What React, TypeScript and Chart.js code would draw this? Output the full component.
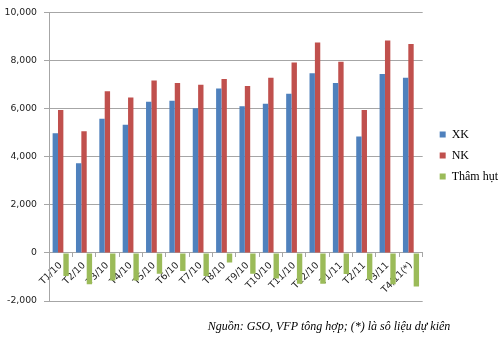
import React, { useEffect, useRef } from "react";
import { Chart, registerables } from "chart.js";

Chart.register(...registerables);

const categories = [
  "T1/10", "T2/10", "T3/10", "T4/10", "T5/10", "T6/10", "T7/10", "T8/10",
  "T9/10", "T10/10", "T11/10", "T12/10", "T1/11", "T2/11", "T3/11", "T4/11(*)",
];
const xk = [4980, 3730, 5580, 5330, 6290, 6330, 6020, 6840, 6100, 6210, 6620, 7480, 7070, 4840, 7440, 7290];
const nk = [5950, 5060, 6730, 6470, 7170, 7070, 7000, 7240, 6950, 7290, 7920, 8760, 7950, 5950, 8840, 8690];
const deficit = [-960, -1300, -1150, -1150, -870, -750, -960, -400, -870, -1060, -1280, -1280, -880, -1120, -1300, -1400];
const seriesNames = ["XK", "NK", "Thâm hụt"];
const yMin = -2000;
const yMax = 10000;
const yStep = 2000;
const footnote = "Nguồn: GSO, VFP tông hợp; (*) là sô liệu dự kiên";

const footnotePlugin = {
  id: "footnote",
  afterLayout(chart: any) {
    const lg = chart.legend;
    if (lg) {
      lg.left += 8;
      lg.right += 8;
      lg.top += 5;
      lg.bottom += 5;
    }
  },
  afterDraw(chart: any) {
    const ctx = chart.ctx;
    ctx.save();
    ctx.font = 'italic 12px "Liberation Serif"';
    ctx.fillStyle = "#000";
    ctx.textAlign = "center";
    ctx.textBaseline = "alphabetic";
    ctx.fillText(footnote, 329, 330);
    ctx.restore();
  },
};

export default function App() {
  const ref = useRef<HTMLCanvasElement>(null);
  useEffect(() => {
    const chart = new Chart(ref.current!, {
      type: "bar",
      data: {
        labels: categories,
        datasets: [
          { label: seriesNames[0], data: xk, backgroundColor: "#4F81BD" },
          { label: seriesNames[1], data: nk, backgroundColor: "#C0504D" },
          { label: seriesNames[2], data: deficit, backgroundColor: "#9BBB59" },
        ],
      },
      options: {
        animation: false,
        responsive: false,
        devicePixelRatio: 1,
        datasets: { bar: { categoryPercentage: 0.69, barPercentage: 1 } },
        layout: { padding: { top: 0, left: 3, right: 2, bottom: 39 } },
        plugins: {
          tooltip: { enabled: false },
          legend: {
            position: "right",
            labels: {
              boxWidth: 6,
              boxHeight: 6,
              padding: 9,
              color: "#000",
              font: { family: "Liberation Serif", size: 12 },
            },
          },
        },
        scales: {
          x: {
            position: { y: 0 } as any,
            afterFit: (scale: any) => {
              scale.height = 0;
              scale.paddingLeft = 0;
              scale.paddingRight = 0;
            },
            grid: { display: true, drawOnChartArea: false, drawTicks: true, tickLength: 4, color: "#a6a6a6", offset: true },
            border: { color: "#a6a6a6" },
            ticks: {
              autoSkip: false,
              maxRotation: 45,
              minRotation: 45,
              padding: 3,
              labelOffset: 0,
              color: "#222",
              font: { family: "DejaVu Sans", size: 9.5 },
            },
          },
          y: {
            min: yMin,
            max: yMax,
            afterFit: (scale: any) => { scale.width = 46; },
            grid: { color: "#a6a6a6", tickLength: 5 },
            border: { color: "#a6a6a6" },
            ticks: {
              stepSize: yStep,
              padding: 7,
              color: "#222",
              font: { family: "DejaVu Sans", size: 9.3 },
              callback: (v: any) => Number(v).toLocaleString("en-US"),
            },
          },
        },
      },
      plugins: [footnotePlugin],
    });
    return () => chart.destroy();
  }, []);
  return (
    <div style={{ position: "absolute", left: 0, top: 0, width: 502, height: 340 }}>
      <canvas ref={ref} width={502} height={340} />
    </div>
  );
}
